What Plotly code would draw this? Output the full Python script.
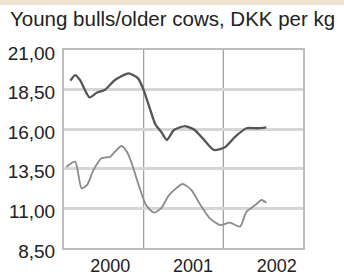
import plotly.graph_objects as go

# Data (decimal years)
bulls_x = [2000.08, 2000.14, 2000.20, 2000.32, 2000.41, 2000.51, 2000.64, 2000.81, 2000.93,
           2001.00, 2001.07, 2001.15, 2001.22, 2001.29, 2001.38, 2001.52, 2001.64, 2001.74,
           2001.88, 2002.02, 2002.15, 2002.29, 2002.42, 2002.54]
bulls_y = [19.06, 19.42, 19.11, 18.01, 18.30, 18.47, 19.11, 19.53, 19.21,
           18.47, 17.42, 16.27, 15.84, 15.32, 15.95, 16.20, 15.95, 15.43,
           14.69, 14.86, 15.53, 16.06, 16.06, 16.12]

cows_x = [2000.03, 2000.14, 2000.22, 2000.29, 2000.37, 2000.47, 2000.58, 2000.64, 2000.72,
          2000.79, 2000.85, 2000.93, 2001.03, 2001.13, 2001.22, 2001.32, 2001.49, 2001.60,
          2001.70, 2001.83, 2001.96, 2002.08, 2002.21, 2002.29, 2002.40, 2002.48, 2002.54]
cows_y = [13.63, 13.95, 12.27, 12.48, 13.42, 14.16, 14.26, 14.58, 14.94,
          14.58, 13.85, 12.58, 11.21, 10.73, 11.01, 11.85, 12.54, 12.16,
          11.32, 10.37, 9.95, 10.10, 9.85, 10.79, 11.21, 11.53, 11.36]

y_ticks = [8.5, 11.0, 13.5, 16.0, 18.5, 21.0]
y_labels = ["8,50", "11,00", "13,50", "16,00", "18,50", "21,00"]
x_label_pos = [2000.58, 2001.62, 2002.67]
x_labels = ["2000", "2001", "2002"]
year_lines = [2001, 2002]

FONT = "Liberation Sans, Arial, sans-serif"

fig = go.Figure()
fig.add_trace(go.Scatter(x=cows_x, y=cows_y, mode="lines",
                         line=dict(color="#8a8a8a", width=1.8, shape="spline", smoothing=0.6),
                         hoverinfo="skip"))
fig.add_trace(go.Scatter(x=bulls_x, y=bulls_y, mode="lines",
                         line=dict(color="#555555", width=2.3, shape="spline", smoothing=0.6),
                         hoverinfo="skip"))

shapes = []
for yl in year_lines:
    shapes.append(dict(type="line", xref="x", yref="paper", x0=yl, x1=yl, y0=0, y1=1,
                       line=dict(color="#9a9a9a", width=1.2), layer="below"))
# top beige band
shapes.append(dict(type="rect", xref="paper", yref="paper", x0=-0.3, x1=1.2,
                   y0=1.227, y1=1.30, fillcolor="#efe3d0", line=dict(width=0), layer="above"))

fig.update_layout(
    width=344, height=276,
    margin=dict(l=64, r=41, t=50, b=28, autoexpand=False),
    paper_bgcolor="white", plot_bgcolor="white",
    showlegend=False,
    shapes=shapes,
    font=dict(family=FONT, color="#222222"),
    annotations=[dict(text="Young bulls/older cows, DKK per kg", xref="paper", yref="paper",
                      x=-0.234, y=1.09, xanchor="left", yanchor="bottom", showarrow=False,
                      font=dict(size=20.5, family=FONT, color="#222222"))],
)
fig.update_xaxes(range=[2000, 2003], tickvals=x_label_pos, ticktext=x_labels,
                 showgrid=False, zeroline=False, ticks="", automargin=False,
                 showline=True, linecolor="#bdbdbd", linewidth=2, mirror=True,
                 ticklabelstandoff=0,
                 tickfont=dict(size=18, family=FONT, color="#222222"))
fig.update_yaxes(range=[8.5, 21], tickvals=y_ticks, ticktext=y_labels,
                 showgrid=True, gridcolor="#d6d6d6", gridwidth=3, zeroline=False, ticks="",
                 automargin=False,
                 showline=True, linecolor="#bdbdbd", linewidth=2, mirror=True,
                 ticklabelshift=3, ticklabelstandoff=3,
                 tickfont=dict(size=19, family=FONT, color="#222222"))

fig.write_html("out.html", config={"displayModeBar": False},
               post_script="document.body.style.margin='0px';document.body.style.overflow='hidden';")
